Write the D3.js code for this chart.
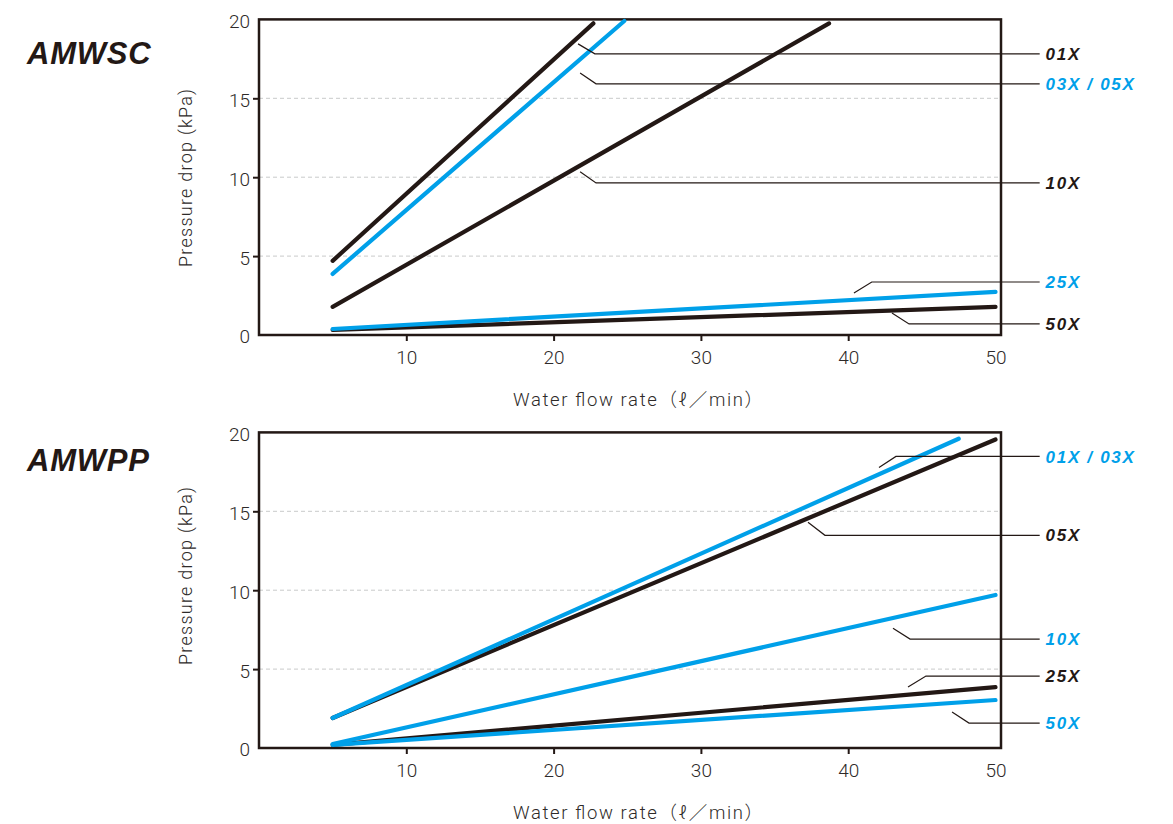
<!DOCTYPE html>
<html><head><meta charset="utf-8">
<script src="https://cdn.jsdelivr.net/npm/d3@7"></script>
<style>
html,body{margin:0;padding:0;background:#fff;}
svg{display:block;}
.tick text{font-family:Roboto,"Noto Sans CJK JP",sans-serif;font-weight:300;fill:#2e2a29;}
</style></head>
<body>
<svg id="c" width="1173" height="824"></svg>
<script>
// ---------- data ----------
const xTicks = [10, 20, 30, 40, 50];
const yTicks = [0, 5, 10, 15, 20];
const chartTitles = ["AMWSC", "AMWPP"];
const xAxisTitle = "Water flow rate（ℓ／min）";
const yAxisTitle = "Pressure drop (kPa)";

// AMWSC
const wscNames = ["01X", "03X / 05X", "10X", "25X", "50X"];
const wscFlow = [[5, 22.7], [5, 24.8], [5, 38.7], [5, 50], [5, 50]];
const wscPressure = [[4.7, 19.75], [3.87, 19.9], [1.78, 19.75], [0.38, 2.73], [0.32, 1.78]];
const wscLeaderFrom = [[21.66, 18.45], [21.8, 16.61], [21.8, 10.34], [40.39, 2.66], [42.97, 1.40]];
const wscLeaderElbow = [[22.8, 17.82], [22.88, 15.92], [22.88, 9.64], [41.6, 3.36], [44.13, 0.70]];

// AMWPP
const wppNames = ["01X / 03X", "05X", "10X", "25X", "50X"];
const wppFlow = [[5, 47.5], [5, 50], [5, 50], [5, 50], [5, 50]];
const wppPressure = [[1.9, 19.6], [1.9, 19.55], [0.25, 9.7], [0.2, 3.86], [0.2, 3.04]];
const wppLeaderFrom = [[42.09, 17.78], [37.27, 14.30], [43.04, 7.59], [44.06, 3.86], [47.05, 2.28]];
const wppLeaderElbow = [[43.24, 18.48], [38.42, 13.48], [44.2, 6.90], [45.28, 4.56], [48.2, 1.58]];

const leaderEndFlow = 53.0;
const labelFlow = 53.4;

// ---------- styles ----------
const BLACK = "#231815", BLUE = "#00a0e9";
const wscColors = [BLACK, BLUE, BLACK, BLUE, BLACK];
const wppColors = [BLUE, BLACK, BLUE, BLACK, BLUE];

const svg = d3.select("#c");
svg.append("rect").attr("width", 1173).attr("height", 824).attr("fill", "#fff");

const X0 = 259, X50 = 995.5, XR = 1001;

function drawPanel(cfg) {
  const x = d3.scaleLinear().domain([0, 50]).range([X0, X50]);
  const y = d3.scaleLinear().domain([0, 20]).range([cfg.bottom, cfg.bottom - 315.6]);
  const top = y(20);
  const g = svg.append("g");

  // title
  g.append("text").attr("x", 27).attr("y", cfg.titleY)
    .attr("font-family", "'Liberation Sans',Arial,sans-serif")
    .attr("font-weight", "bold").attr("font-style", "italic")
    .attr("font-size", 31).attr("letter-spacing", 0.8)
    .attr("fill", BLACK).text(cfg.title);

  // grid
  g.append("g").selectAll("line").data(yTicks.filter(d => d > 0 && d < 20)).join("line")
    .attr("x1", X0).attr("x2", XR).attr("y1", d => y(d)).attr("y2", d => y(d))
    .attr("stroke", "#c9caca").attr("stroke-width", 1).attr("stroke-dasharray", "4,3");

  // axes
  const ya = g.append("g").attr("transform", `translate(${X0},0)`)
    .call(d3.axisLeft(y).tickValues(yTicks).tickSize(6).tickPadding(3));
  ya.select(".domain").remove();
  ya.selectAll(".tick line").attr("stroke", BLACK).attr("stroke-width", 2)
    .attr("display", d => (d === 0 || d === 20) ? "none" : null);
  ya.selectAll(".tick text").attr("font-size", 19).attr("dy", "0.42em");

  const xa = g.append("g").attr("transform", `translate(0,${cfg.bottom})`)
    .call(d3.axisBottom(x).tickValues(xTicks).tickSize(6).tickPadding(10));
  xa.select(".domain").remove();
  xa.selectAll(".tick line").attr("stroke", BLACK).attr("stroke-width", 2)
    .attr("display", d => d === 50 ? "none" : null);
  xa.selectAll(".tick text").attr("font-size", 19);

  // frame
  g.append("rect").attr("x", X0).attr("y", top).attr("width", XR - X0).attr("height", cfg.bottom - top)
    .attr("fill", "none").attr("stroke", BLACK).attr("stroke-width", 2.5);

  // axis titles
  g.append("text").attr("x", 513).attr("y", cfg.bottom + 71)
    .attr("textLength", 250).attr("lengthAdjust", "spacing")
    .attr("font-family", "Roboto,'Noto Sans CJK JP',sans-serif").attr("font-weight", 300)
    .attr("font-size", 18.5).attr("fill", "#2e2a29").text(xAxisTitle);
  g.append("text")
    .attr("transform", `translate(192,${cfg.yTitleC}) rotate(-90)`)
    .attr("x", -89)
    .attr("textLength", 178).attr("lengthAdjust", "spacing")
    .attr("font-family", "Roboto,'Noto Sans CJK JP',sans-serif").attr("font-weight", 300)
    .attr("font-size", 18).attr("fill", "#2e2a29").text(yAxisTitle);

  // series
  const series = cfg.names.map((n, i) => ({
    name: n, color: cfg.colors[i],
    pts: cfg.flow[i].map((f, j) => [f, cfg.pressure[i][j]]),
    from: cfg.from[i], elbow: cfg.elbow[i]
  }));
  const line = d3.line().x(d => x(d[0])).y(d => y(d[1]));
  const order = series.filter(s => s.color === BLACK).concat(series.filter(s => s.color === BLUE));
  g.append("g").selectAll("path").data(order).join("path")
    .attr("d", s => line(s.pts)).attr("fill", "none")
    .attr("stroke", s => s.color).attr("stroke-width", 4.2).attr("stroke-linecap", "round");

  // leaders
  g.append("g").selectAll("path").data(series).join("path")
    .attr("d", s => line([s.from, s.elbow, [leaderEndFlow, s.elbow[1]]]))
    .attr("fill", "none").attr("stroke", BLACK).attr("stroke-width", 1.2);
  g.append("g").selectAll("text").data(series).join("text")
    .attr("x", x(labelFlow)).attr("y", s => y(s.elbow[1])).attr("dy", "0.36em")
    .attr("font-family", "'Liberation Sans',Arial,sans-serif")
    .attr("font-weight", "bold").attr("font-style", "italic")
    .attr("font-size", 17).attr("letter-spacing", 1.7)
    .attr("fill", s => s.color).text(s => s.name);
}

drawPanel({ title: chartTitles[0], titleY: 64, bottom: 335, yTitleC: 178,
  names: wscNames, colors: wscColors, flow: wscFlow, pressure: wscPressure,
  from: wscLeaderFrom, elbow: wscLeaderElbow });
drawPanel({ title: chartTitles[1], titleY: 471, bottom: 748, yTitleC: 576,
  names: wppNames, colors: wppColors, flow: wppFlow, pressure: wppPressure,
  from: wppLeaderFrom, elbow: wppLeaderElbow });
</script>
</body></html>
